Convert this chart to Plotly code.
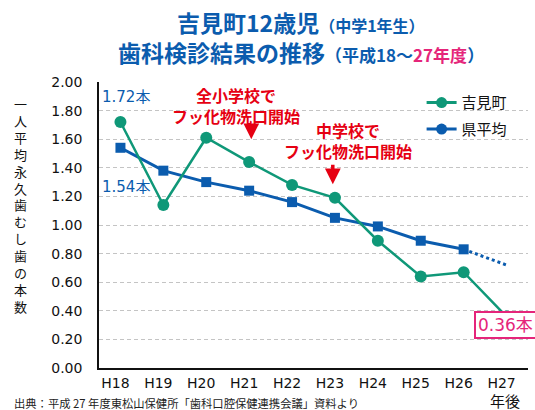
import plotly.graph_objects as go

years = ["H18", "H19", "H20", "H21", "H22", "H23", "H24", "H25", "H26", "H27"]
yoshimi = [1.72, 1.14, 1.61, 1.44, 1.28, 1.19, 0.89, 0.64, 0.67, 0.36]
pref_avg = [1.54, 1.38, 1.30, 1.24, 1.16, 1.05, 0.99, 0.89, 0.83]
pref_trend_x = ["H26", "H27"]
pref_trend = [0.83, 0.72]
y_ticks = [0.0, 0.2, 0.4, 0.6, 0.8, 1.0, 1.2, 1.4, 1.6, 1.8, 2.0]
y_title = "一人平均永久歯むし歯の本数"

GREEN = "#0f9878"
BLUE = "#0b5cae"
RED = "#e60012"
PINK = "#e5257a"
FONT = "DejaVu Sans, Noto Sans CJK JP, sans-serif"
JFONT = "Noto Sans CJK JP, DejaVu Sans, sans-serif"

fig = go.Figure()

fig.add_trace(go.Scatter(
    x=pref_trend_x, y=pref_trend, mode="lines",
    line=dict(color=BLUE, width=3, dash="3px,3px"), showlegend=False, hoverinfo="skip"))
fig.add_trace(go.Scatter(
    x=years[:len(pref_avg)], y=pref_avg, mode="lines+markers",
    line=dict(color=BLUE, width=3), marker=dict(symbol="square", size=10, color=BLUE),
    showlegend=False))
fig.add_trace(go.Scatter(
    x=years, y=yoshimi, mode="lines+markers",
    line=dict(color=GREEN, width=2.5), marker=dict(symbol="circle", size=12, color=GREEN),
    showlegend=False))
# legend entries (circle symbols as in original)
fig.add_trace(go.Scatter(
    x=[None], y=[None], mode="lines+markers", name="吉見町", legendgroup="a",
    line=dict(color=GREEN, width=3), marker=dict(symbol="circle", size=11, color=GREEN)))
fig.add_trace(go.Scatter(
    x=[None], y=[None], mode="lines+markers", name="県平均", legendgroup="b",
    line=dict(color=BLUE, width=3), marker=dict(symbol="circle", size=11, color=BLUE)))

ann = []
# title
ann.append(dict(xref="paper", yref="paper", x=0.47, y=1.21, xanchor="center", yanchor="middle",
                showarrow=False,
                text="<b>吉見町12歳児</b><span style='font-size:16px'><b>（中学1年生）</b></span>",
                font=dict(family=JFONT, size=23, color=BLUE)))
ann.append(dict(xref="paper", yref="paper", x=0.47, y=1.105, xanchor="center", yanchor="middle",
                showarrow=False,
                text=("<b>歯科検診結果の推移</b><span style='font-size:17px'><b>（平成18～"
                      "<span style='color:" + PINK + "'>27年度</span>）</b></span>"),
                font=dict(family=JFONT, size=23, color=BLUE)))
# y-axis title (vertical, one glyph per line)
ann.append(dict(xref="paper", yref="paper", x=-0.184, y=0.57, xanchor="center", yanchor="middle",
                showarrow=False, text="<br>".join(list(y_title)),
                font=dict(family=JFONT, size=13, color="#111")))
# value labels
ann.append(dict(xref="paper", yref="paper", x=0.003, y=0.949, xanchor="left", yanchor="middle",
                showarrow=False, text="1.72本", font=dict(family=FONT, size=15, color=BLUE)))
ann.append(dict(xref="paper", yref="paper", x=0.003, y=0.633, xanchor="left", yanchor="middle",
                showarrow=False, text="1.54本", font=dict(family=FONT, size=15, color=BLUE)))
# red notes
ann.append(dict(xref="x", yref="y", x=2.69, y=1.835, xanchor="center", yanchor="middle",
                showarrow=False, text="<b>全小学校で<br>フッ化物洗口開始</b>",
                font=dict(family=JFONT, size=16, color=RED)))
ann.append(dict(xref="x", yref="y", x=5.3, y=1.59, xanchor="center", yanchor="middle",
                showarrow=False, text="<b>中学校で<br>フッ化物洗口開始</b>",
                font=dict(family=JFONT, size=16, color=RED)))
# red arrows
ann.append(dict(xref="x", yref="y", x=3.05, y=1.60, ax=0, ay=-13, text="", showarrow=True,
                arrowhead=2, arrowsize=0.9, arrowwidth=3.5, arrowcolor=RED, standoff=0))
ann.append(dict(xref="x", yref="y", x=4.95, y=1.285, ax=0, ay=-21, text="", showarrow=True,
                arrowhead=2, arrowsize=0.9, arrowwidth=3.5, arrowcolor=RED, standoff=0))
# final value box
ann.append(dict(xref="paper", yref="y", x=0.873, y=0.30, xanchor="left", yanchor="middle",
                showarrow=False, text="0.36本", font=dict(family=FONT, size=17, color=PINK),
                bordercolor=PINK, borderwidth=2, borderpad=2, bgcolor="white"))
# x-axis unit
ann.append(dict(xref="paper", yref="paper", x=0.946, y=-0.115, xanchor="center", yanchor="middle",
                showarrow=False, text="年後", font=dict(family=JFONT, size=15, color="#111")))
# source
ann.append(dict(xref="paper", yref="paper", x=-0.203, y=-0.122, xanchor="left", yanchor="middle",
                showarrow=False, text="出典：平成 27 年度東松山保健所「歯科口腔保健連携会議」資料より",
                font=dict(family=JFONT, size=11.3, color="#222")))

fig.update_layout(
    width=535, height=410,
    margin=dict(l=99, r=7, t=82, b=42),
    paper_bgcolor="white", plot_bgcolor="white",
    font=dict(family=FONT, size=14, color="#111"),
    showlegend=True,
    legend=dict(x=0.752, y=0.985, xanchor="left", yanchor="top", bgcolor="rgba(0,0,0,0)",
                font=dict(family=JFONT, size=15, color="#111"), tracegroupgap=4, itemwidth=30),
    annotations=ann,
    xaxis=dict(type="category", categoryorder="array", categoryarray=years,
               range=[-0.5, 9.5], showgrid=False, showline=True, linecolor="#111", linewidth=1.5,
               ticks="", tickfont=dict(family=FONT, size=14, color="#111"), ticklabelshift=-5,
               ticklabelstandoff=1, zeroline=False, fixedrange=True),
    yaxis=dict(range=[0, 2.0], tickvals=y_ticks, ticktext=[f"{v:.2f}" for v in y_ticks],
               showgrid=True, gridcolor="#c4c4c4", griddash="4px,3px", gridwidth=1,
               showline=True, linecolor="#111", linewidth=1.5, ticks="",
               tickfont=dict(family=FONT, size=14, color="#111"), ticklabelstandoff=12,
               zeroline=False, fixedrange=True),
)

fig.write_html("out.html", config={"displayModeBar": False},
               post_script="document.body.style.margin='0';document.body.style.overflow='hidden';")
